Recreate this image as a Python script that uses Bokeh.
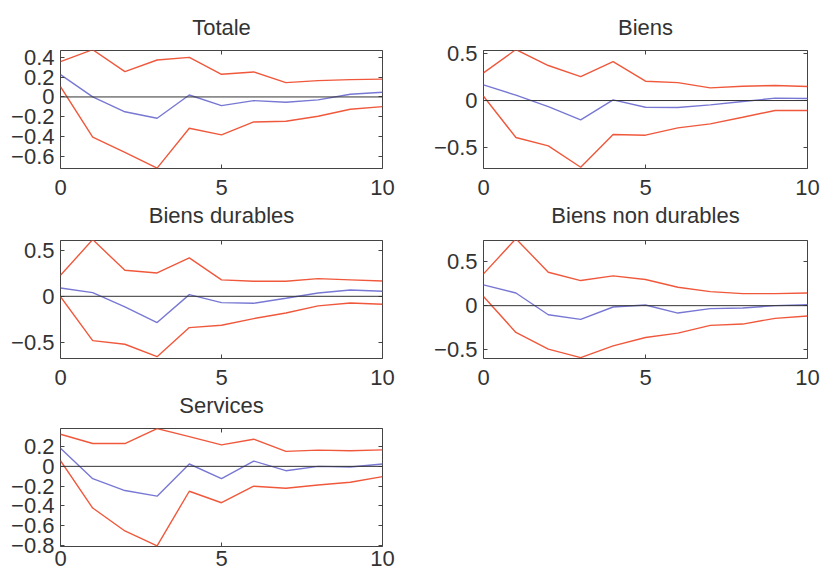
from bokeh.plotting import figure
from bokeh.layouts import column, row
from bokeh.models import Range1d, FixedTicker, CustomJSTickFormatter, Span, Title, LinearAxis
from bokeh.embed import file_html
from bokeh.resources import INLINE

horizon = list(range(11))

titles = ["Totale", "Biens", "Biens durables", "Biens non durables", "Services"]

totale_up = [0.357, 0.478, 0.256, 0.374, 0.40, 0.229, 0.253, 0.145, 0.165, 0.175, 0.18]
totale_mid = [0.226, 0.0, -0.15, -0.215, 0.02, -0.088, -0.037, -0.054, -0.03, 0.027, 0.047]
totale_low = [0.104, -0.407, -0.56, -0.72, -0.317, -0.384, -0.253, -0.246, -0.195, -0.125, -0.098]

biens_up = [0.293, 0.54, 0.371, 0.254, 0.413, 0.205, 0.19, 0.134, 0.152, 0.159, 0.148]
biens_mid = [0.166, 0.057, -0.064, -0.205, 0.007, -0.071, -0.074, -0.046, -0.011, 0.025, 0.021]
biens_low = [0.046, -0.392, -0.48, -0.707, -0.36, -0.367, -0.29, -0.247, -0.177, -0.106, -0.106]

dur_up = [0.229, 0.62, 0.284, 0.255, 0.42, 0.18, 0.164, 0.164, 0.193, 0.18, 0.167]
dur_mid = [0.09, 0.04, -0.116, -0.287, 0.018, -0.069, -0.076, -0.022, 0.036, 0.069, 0.055]
dur_low = [-0.005, -0.484, -0.524, -0.66, -0.342, -0.316, -0.244, -0.182, -0.105, -0.073, -0.087]

nondur_up = [0.361, 0.76, 0.38, 0.285, 0.338, 0.297, 0.209, 0.16, 0.137, 0.137, 0.144]
nondur_mid = [0.236, 0.144, -0.103, -0.156, -0.015, 0.008, -0.084, -0.034, -0.027, 0.0, 0.011]
nondur_low = [0.103, -0.304, -0.494, -0.59, -0.456, -0.361, -0.312, -0.224, -0.209, -0.144, -0.118]

serv_up = [0.327, 0.232, 0.232, 0.384, 0.303, 0.219, 0.276, 0.152, 0.165, 0.158, 0.168]
serv_mid = [0.185, -0.125, -0.246, -0.303, 0.024, -0.125, 0.054, -0.044, 0.0, -0.007, 0.024]
serv_low = [0.057, -0.424, -0.657, -0.808, -0.253, -0.37, -0.202, -0.222, -0.189, -0.162, -0.104]

y_ranges = [(-0.724, 0.47), (-0.72, 0.53), (-0.68, 0.61), (-0.60, 0.74), (-0.815, 0.385)]
y_ticks = [[-0.6, -0.4, -0.2, 0, 0.2, 0.4], [-0.5, 0, 0.5], [-0.5, 0, 0.5], [-0.5, 0, 0.5],
           [-0.8, -0.6, -0.4, -0.2, 0, 0.2]]
x_ticks = [0, 5, 10]

series = [
    (totale_up, totale_mid, totale_low),
    (biens_up, biens_mid, biens_low),
    (dur_up, dur_mid, dur_low),
    (nondur_up, nondur_mid, nondur_low),
    (serv_up, serv_mid, serv_low),
]

FONT = "Liberation Sans"
RED = "#f0583c"
BLUE = "#7878d4"
INK = "#444444"

# (border_left, border_right, border_top, border_bottom, xlabel_standoff, frame_width)
geo = [
    (60, 33, 50, 65, 11, 322),
    (68, 15, 50, 65, 11, 324),
    (60, 33, 7, 63, 11, 322),
    (68, 15, 7, 63, 11, 324),
    (60, 33, 7, 29, 4, 322),
]
FRAME_H = 118

# the title of a panel in a lower row is set in the bottom margin of the panel above it
title_host = {0: (0, "above"), 1: (1, "above"), 2: (0, "below"), 3: (1, "below"), 4: (2, "below")}

fmt_int = CustomJSTickFormatter(code="return tick.toFixed(0);")
fmt_y = CustomJSTickFormatter(code="""
if (Math.abs(tick) < 1e-9) { return '0'; }
var s = tick.toFixed(1);
return s.replace('-', '\u2212');
""")
fmt_blank = CustomJSTickFormatter(code="return '';")


def mirror_axis(ticks):
    return LinearAxis(ticker=FixedTicker(ticks=ticks), formatter=fmt_blank,
                      axis_line_color=None, major_tick_in=4, major_tick_out=0,
                      major_tick_line_color=INK, minor_tick_line_color=None,
                      major_label_text_font_size="1px", major_label_standoff=0)


figs = []
for i in range(5):
    bl, br, bt, bb, xs, fw = geo[i]
    up, mid, low = series[i]
    y0, y1 = y_ranges[i]
    p = figure(frame_width=fw, frame_height=FRAME_H, output_backend="svg", toolbar_location=None,
               x_range=Range1d(0, 10), y_range=Range1d(y0, y1),
               min_border_left=bl, min_border_right=br, min_border_top=bt,
               min_border_bottom=bb)
    p.grid.visible = False
    p.background_fill_color = "white"
    p.border_fill_color = "white"
    p.outline_line_color = INK
    p.outline_line_width = 1

    for ax in p.xaxis:
        ax.ticker = FixedTicker(ticks=x_ticks)
        ax.formatter = fmt_int
        ax.major_label_standoff = xs
    for ax in p.yaxis:
        ax.ticker = FixedTicker(ticks=y_ticks[i])
        ax.formatter = fmt_y
        ax.major_label_standoff = 6
    for ax in list(p.xaxis) + list(p.yaxis):
        ax.axis_line_color = None
        ax.major_tick_in = 4
        ax.major_tick_out = 0
        ax.major_tick_line_color = INK
        ax.minor_tick_line_color = None
        ax.major_label_text_font = FONT
        ax.major_label_text_font_size = "22px"
        ax.major_label_text_color = "#333333"

    p.add_layout(mirror_axis(x_ticks), "above")
    p.add_layout(mirror_axis(y_ticks[i]), "right")

    span = Span(location=0, dimension="width", line_color="#333333", line_width=1)
    p.add_layout(span)

    p.line(horizon, up, line_color=RED, line_width=1.4)
    p.line(horizon, low, line_color=RED, line_width=1.4)
    p.line(horizon, mid, line_color=BLUE, line_width=1.4)
    figs.append(p)

for k, name in enumerate(titles):
    host, side = title_host[k]
    t = Title(text=name, align="center", text_font=FONT, text_font_size="22px",
              text_font_style="normal", text_color="#333333",
              standoff=22 if side == "above" else 6)
    if side == "above":
        figs[host].title = t
    else:
        figs[host].add_layout(t, "below")

layout = column(row(figs[0], figs[1]), row(figs[2], figs[3]), row(figs[4]))
open("out.html", "w").write(file_html(layout, INLINE))
